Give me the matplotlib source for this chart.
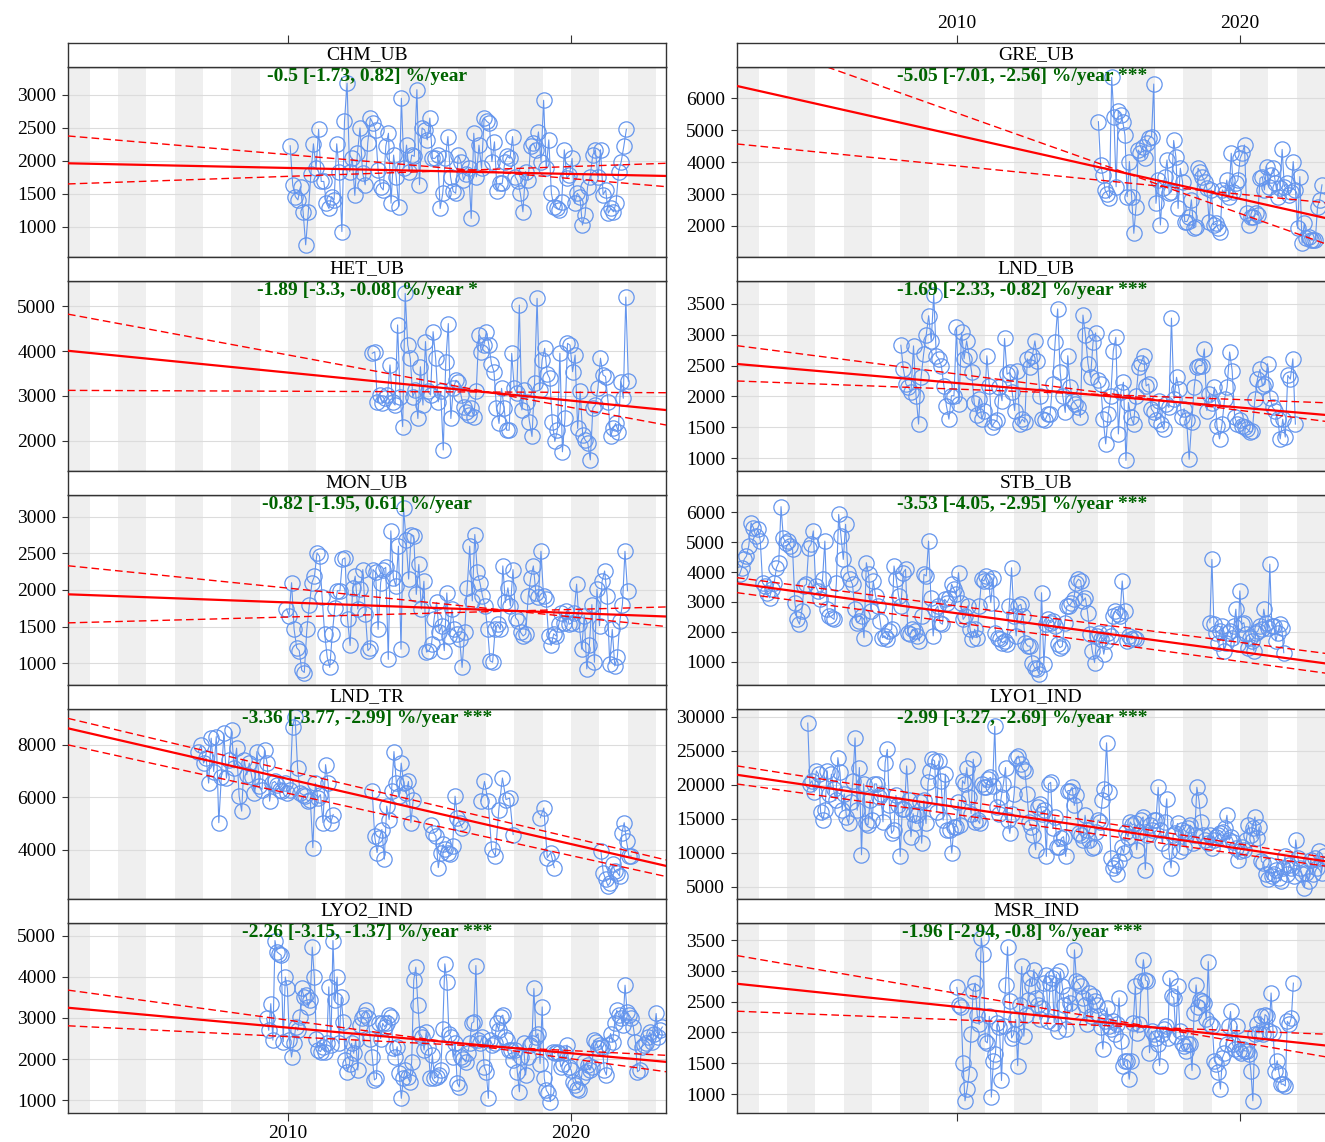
import numpy as np
import matplotlib
matplotlib.use("Agg")
import matplotlib.pyplot as plt

plt.rcParams['font.family'] = ['Liberation Serif', 'DejaVu Serif']

# ---- data (monthly means) ----
chm_ub = [2230, 1630, 1460, 1410, 1610, 1230, 730, 1220, 1800, 2260, 1890, 2480, 1690, 1690, 1360, 1280, 1460, 1410, 2260, 1840,
          930, 2600, 3180, 1840, 2040, 1480, 2120, 2500, 1820, 1640, 2270, 2650, 2570, 2470, 1860, 1610, 1560, 2230, 2420, 1360,
          2090, 1760, 1310, 2950, 1890, 2240, 1840, 2090, 2070, 3080, 1640, 2500, 2470, 2320, 2650, 2040, 2040, 2090, 1280, 1510,
          2040, 2370, 1760, 1540, 1510, 2090, 1990, 1710, 1810, 1890, 1130, 2420, 1760, 2240, 1890, 2650, 2600, 2570, 1990, 2290,
          1540, 1660, 1660, 1990, 2070, 2040, 2370, 1760, 1690, 1510, 1230, 1840, 1710, 2220, 2270, 2170, 2440, 1990, 2920, 1890,
          2320, 1510, 1310, 1280, 1260, 1380, 2170, 1740, 1790, 2040, 1360, 1510, 1460, 1030, 1180, 1610, 1760, 2090, 2170, 1760,
          2170, 1490, 1560, 1210, 1280, 1230, 1360, 1840, 1990, 2220, 2480]
gre_ub = [5270, 3910, 3600, 3130, 3000, 2870, 6660, 5430, 3230, 5620, 5480, 5270, 4850, 2920, 4020, 2920, 1770, 2610, 4380, 4280,
          4490, 4120, 4590, 4750, 4800, 6450, 2710, 3440, 2030, 3180, 3550, 4070, 3020, 3080, 4680, 4170, 2550, 3810, 3390, 2140,
          2140, 2290, 2820, 1930, 1980, 3810, 3700, 3550, 3390, 3180, 2140, 3130, 2030, 2080, 1930, 1820, 3130, 3020, 3440, 2920,
          4280, 3080, 3340, 3440, 4120, 4280, 4540, 2400, 2030, 2290, 2290, 2400, 2340, 3490, 3550, 3130, 3860, 3230, 3600, 3810,
          3340, 2920, 3180, 4400, 3230, 3340, 2970, 3080, 4020, 3130, 1930, 3550, 1460, 2080, 1610, 1670, 1560, 1560, 1560, 2610,
          2820, 3290]
het_ub = [3950, 3980, 2870, 3020, 2840, 2950, 3020, 3690, 2870, 2800, 4580, 2980, 2320, 5280, 4130, 3840, 2980, 3130, 2500, 3650,
          2800, 4210, 3100, 3020, 4430, 3840, 2870, 3100, 1800, 3760, 4610, 2500, 3170, 3350, 3320, 3020, 2760, 2650, 2580, 2730,
          2540, 3100, 4350, 3980, 4130, 4430, 4130, 3720, 3540, 2730, 2390, 3170, 2730, 2240, 2240, 3950, 3170, 3060, 5020, 2690,
          3130, 2870, 2430, 2100, 3280, 5170, 3130, 3800, 4060, 3500, 3390, 2430, 1990, 2240, 3950, 1760, 2500, 4170, 4130, 3540,
          3910, 2280, 3100, 2130, 2020, 1950, 1580, 2730, 2800, 3170, 3840, 3470, 3430, 2870, 2100, 2280, 2390, 2210, 3320, 2950,
          5200, 3330]
lnd_ub = [2830, 2440, 2200, 2150, 2070, 2820, 2010, 1550, 2310, 2690, 2990, 3310, 2900, 3650, 2660, 2610, 2500, 2170, 1850, 1630,
          2010, 2010, 3120, 1880, 3040, 2610, 2900, 2660, 2390, 1900, 1690, 1960, 1630, 1770, 2660, 2170, 1500, 1580, 1610, 2150,
          1930, 2940, 2360, 2390, 2070, 1770, 2420, 1550, 1630, 1580, 2610, 2470, 2660, 2900, 2580, 2010, 1630, 1610, 1710, 1710,
          2200, 2880, 3420, 2390, 2010, 1740, 2660, 2150, 1930, 1880, 1820, 1660, 3320, 2990, 2530, 2310, 2880, 3030, 2260, 2200,
          1630, 1230, 1710, 2010, 2740, 2960, 1390, 2070, 2230, 960, 1900, 1660, 1550, 2010, 2470, 2550, 2660, 2170, 2200, 1800,
          1740, 1610, 1930, 1550, 1470, 1880, 1820, 3270, 1960, 2310, 2120, 1660, 1800, 1610, 980, 1580, 2150, 2470, 2500, 2500,
          2770, 1770, 2040, 1900, 2150, 1520, 1310, 1550, 1960, 2150, 2720, 2420, 1660, 1550, 1610, 1520, 1500, 1470, 1420, 1440,
          1960, 2280, 2440, 2170, 2200, 2530, 1980, 1820, 1770, 1630, 1310, 1630, 1340, 2340, 2280, 2610, 1550]
mon_ub = [1740, 1650, 2100, 1460, 1210, 1170, 900, 870, 1460, 1800, 2100, 2190, 2510, 2460, 1900, 1400, 1080, 940, 1400, 1760,
          1990, 1990, 2420, 2440, 1600, 1240, 2030, 2190, 1740, 2010, 2280, 1670, 1170, 1210, 2280, 2240, 1460, 2100, 2280, 2310,
          1050, 2810, 2170, 2050, 2600, 1190, 3120, 2690, 2150, 2760, 2740, 1940, 2350, 1740, 2120, 1150, 1170, 1260, 1600, 1830,
          1420, 1510, 1170, 1960, 1370, 1740, 1460, 1400, 1330, 940, 1420, 2030, 2600, 1850, 2760, 2240, 2100, 1920, 1780, 1460,
          1030, 1010, 1460, 1530, 1460, 2330, 1830, 2030, 1780, 2280, 1620, 1580, 1420, 1370, 1400, 1920, 2170, 2330, 1960, 1900,
          2530, 1920, 1870, 1370, 1240, 1400, 1370, 1530, 1690, 1550, 1710, 1530, 1550, 1690, 2080, 1530, 1190, 1650, 920, 1240,
          1800, 1010, 2010, 1510, 2120, 2260, 1920, 990, 1460, 960, 1080, 1580, 1800, 2530, 1990]
stb_ub_a = [3920, 4140, 4420, 4530, 4870, 5640, 5480, 5200, 5420, 5030, 3640, 3530, 3310, 3140, 3420, 3640, 4140, 4310, 6180, 5140,
            4980, 5030, 4870, 4760, 2980, 2420, 2260, 2700, 3530, 3590, 4810, 4920, 5370, 3530, 3370, 3090, 3760, 5030, 2760, 2530,
            2480, 2420, 3640, 5920, 5200, 4420, 5590, 3980, 3760, 3590, 2760, 2310, 2370, 2530, 1810, 4310, 3920, 2700, 3700, 3200,
            2870, 2370, 1810, 1870, 1760, 2030, 2090, 4200, 3760, 3200, 2870, 3980, 4090, 1980, 1920, 2090, 2030, 1870, 1700, 2530,
            3920, 3870, 5030, 3140, 1870, 2760, 2870, 2310, 2260, 3090, 2980, 3140, 3590, 3420, 3260, 3980, 2980, 2420, 2530, 2870,
            2090, 1760, 2090, 1810, 2870, 3760, 3700, 3870, 3700, 2980, 3810, 1980, 1810, 1760, 1640, 1700, 1590, 2870, 4140, 2530,
            1870, 2870, 2920, 2530, 1640, 1530, 1530, 980, 810, 760, 590, 3310, 920, 2260, 2420, 2310, 2370, 2200, 1590, 1480,
            1530, 2310, 2870, 2870, 2980, 3090, 3640, 3760, 3700, 3030, 3140, 2640, 1920, 1370, 980, 1870, 1980, 1760, 1260, 1700,
            1980, 1870, 2530, 2700, 2590, 2530, 3700, 2700, 1700, 1870, 1760, 1810, 1760]
stb_ub_b = [2310, 4420, 2260, 1980, 1640, 2030, 2200, 1370, 1640, 1980, 2030, 1810, 2200, 2760, 1590, 3370, 2260, 2310, 1920, 1480,
            1810, 1700, 1370, 1980, 2030, 2200, 2090, 2760, 2310, 2140, 4260, 2200, 2200, 1700, 1980, 2260, 2140, 1310]
lnd_tr_1 = [7750, 8000, 7310, 7500, 6550, 8260, 6990, 8320, 5040, 6780, 8450, 6740, 7440, 8570, 7120, 7880, 6050, 5480, 7440, 6870,
            7310, 6780, 6170, 7750, 6420, 6300, 7810, 7310, 5860, 6550, 6610, 6490, 6300, 6240, 6550, 6170, 6300, 8700, 9080, 7120,
            6170, 6110, 6050, 5860, 5920, 4090, 6550, 5980, 6110, 5040, 7250, 6550, 5040, 5350]
lnd_tr_2 = [6240, 4530, 3900, 4470, 4780, 3650, 5670, 5160, 6240, 7750, 6550, 6050, 7310, 6550, 6170, 6610, 5040, 5920]
lnd_tr_3 = [4970, 4660, 4530, 3330, 3900, 4210, 4030, 3900, 3840, 4150, 6050, 5230, 5040, 4850]
lnd_tr_4 = [5860, 6610, 5860, 4030, 3770, 5540, 6740, 5920, 5980, 4590]
lnd_tr_5 = [5230, 5600, 3710, 3900, 3330]
lnd_tr_6 = [3960, 3140, 2890, 2640, 2760, 3460, 3200, 3140, 3010, 4660, 5040, 4340, 3770, 3770]
lyo1_ind = [29100, 20150, 20630, 18940, 22090, 21600, 16040, 14830, 16280, 22090, 18700, 21600, 19420, 17730, 24020, 21840, 16280,
            18700, 15310, 14340, 17490, 20630, 26930, 16280, 22570, 9740, 20150, 14340, 14100, 17730, 14830, 20150, 20150, 18210,
            18700, 14580, 23300, 25230, 17000, 12890, 13370, 18460, 17000, 9500, 16520, 16520, 22810, 17730, 12410, 15790, 14340,
            15550, 17490, 11440, 17730, 14340, 20390, 22090, 23780, 23540, 16040, 23540, 20630, 14830, 21600, 13370, 13370, 9990,
            13860, 13860, 17490, 14100, 20630, 20150, 22570, 18210, 15790, 23780, 14580, 14830, 14340, 20150, 19670, 19670, 20880,
            21120, 19910, 28620, 16760, 15790, 18210, 20150, 22570, 14830, 12890, 15790, 18700, 24020, 24260, 23050, 22330, 22090,
            18700, 14580, 13860, 12650, 10470, 16760, 17250, 15790, 16280, 9500, 20150, 20390, 13620, 15310, 10950, 10950, 12160,
            12410, 9500, 19180, 19180, 19670, 17000, 18460, 12890, 12650, 11920, 15550, 13370, 11920, 10710, 10950, 13130, 14830,
            14580, 17730, 19420, 26200, 18940, 9260, 7810, 8290, 6840, 8780, 10950, 9990, 13130, 12410, 14580, 14100, 14340, 10470,
            13130, 14830, 15310, 7570, 12650, 14100, 13370, 14830, 14830, 19670, 13370, 11440, 14580, 17970, 10230, 7810, 12650,
            12890, 14340, 10230, 13370, 10950, 13130, 13620, 14100, 11440, 12650, 19670, 17730, 14580, 12650, 11920, 11440, 12650,
            10710, 11920, 12410, 12650, 12890, 13130, 13620, 15550, 11920, 12410, 11680, 10710, 9020, 10230, 10950, 10470, 11920,
            14100, 12650, 13620, 15310, 12160, 13860, 8780, 8530, 6840, 6110, 8290, 6600, 6840, 7570, 6360, 5870, 7810, 9500, 6840,
            8290, 7810, 6600, 11920, 9260, 7810, 6840, 4900, 7080, 5870, 9020, 6840, 9260, 7810, 10230, 7080, 9500]
lyo2_ind = [2990, 2700, 3350, 2460, 4890, 4610, 4570, 4530, 2420, 4000, 3720, 2460, 2050, 2380, 2780, 2700, 3030, 3720, 3510, 3550,
            3270, 3430, 4730, 4000, 2500, 2220, 2180, 2300, 2180, 2380, 3760, 2340, 4890, 3430, 4000, 2380, 3510, 2910, 1970, 1690,
            1890, 2380, 2140, 2460, 1730, 2820, 2990, 3070, 3190, 2990, 2500, 2050, 1490, 1530, 2870, 2500, 2870, 2780, 2870, 3070,
            3030, 2260, 2050, 2300, 1650, 1040, 1530, 1730, 1570, 1450, 1930, 3920, 4240, 3310, 2620, 2540, 2220, 2660, 2300, 1530,
            2090, 1530, 1570, 1610, 1730, 2740, 4320, 3880, 2620, 2540, 2050, 2380, 1410, 1320, 2050, 2010, 1930, 2140, 2380, 2870,
            2910, 4280, 2460, 2380, 2540, 1810, 1690, 1040, 2460, 2340, 2380, 2870, 2700, 3030, 3070, 2540, 2460, 2220, 2220, 1970,
            2220, 1690, 1200, 2050, 2380, 1610, 2050, 2340, 2380, 3720, 2540, 2620, 1890, 3270, 1530, 1240, 1160, 960, 2180, 2140,
            2180, 2140, 1810, 1890, 2140, 2340, 1810, 1730, 1450, 1360, 1280, 1240, 1570, 1930, 1690, 1850, 1730, 1810, 2460, 2420,
            2260, 2340, 2300, 1730, 1610, 2340, 2620, 2420, 2870, 3190, 3070, 2990, 2820, 3800, 3150, 3070, 2990, 2780, 2420, 1690,
            1730, 2300, 2340, 2380, 2540, 2660, 2420, 2620, 3110, 2540, 2700, 2780]
msr_ind = [2730, 2450, 2420, 1510, 890, 1080, 1320, 1970, 2670, 2800, 2290, 2130, 3530, 3280, 1860, 1830, 2260, 950, 1540, 1650,
           2160, 2080, 1220, 2100, 2770, 3390, 2510, 1910, 1970, 2210, 1460, 2450, 3070, 1940, 2290, 2530, 2880, 2750, 3020, 2560,
           2450, 2210, 2400, 2800, 2940, 2180, 2800, 2880, 2160, 2940, 2020, 2990, 2750, 2450, 2050, 2610, 2480, 2340, 3340, 2830,
           2800, 2750, 2560, 2450, 2130, 2640, 2260, 2590, 2510, 2450, 2260, 2080, 1730, 2180, 2400, 2100, 2050, 2180, 1970, 2130,
           2560, 1860, 1460, 1540, 1540, 1240, 1540, 2160, 2750, 1990, 2130, 2830, 3180, 2850, 2830, 1670, 2020, 1970, 1910, 1810,
           1460, 1970, 2050, 2100, 1910, 2880, 2590, 2560, 1940, 2750, 2020, 1830, 1780, 1700, 1810, 1810, 1380, 2320, 2770, 2420,
           2530, 2510, 2480, 2210, 3150, 2130, 2100, 1540, 1480, 1350, 1080, 1590, 1670, 1810, 2100, 2340, 1810, 1730, 2100, 1700,
           1670, 1730, 1700, 1700, 1650, 1380, 890, 1970, 2130, 1990, 2260, 1970, 2290, 2260, 2020, 2640, 1990, 1380, 1540, 1320,
           1160, 1160, 1130, 2180, 2130, 2240, 2800]

# first / last date (decimal year) of each run of samples
spans = {
    "CHM_UB": [(2010.08, 2021.96, chm_ub)],
    "GRE_UB": [(2015.0, 2022.9, gre_ub)],
    "HET_UB": [(2012.98, 2022.03, het_ub)],
    "LND_UB": [(2008.02, 2021.96, lnd_ub)],
    "MON_UB": [(2009.95, 2022.0, mon_ub)],
    "STB_UB": [(2002.32, 2016.33, stb_ub_a), (2018.94, 2021.55, stb_ub_b)],
    "LND_TR": [(2006.84, 2011.6, lnd_tr_1), (2012.98, 2014.43, lnd_tr_2), (2015.06, 2016.16, lnd_tr_3),
               (2016.82, 2017.96, lnd_tr_4), (2018.92, 2019.41, lnd_tr_5), (2021.06, 2022.13, lnd_tr_6)],
    "LYO1_IND": [(2004.73, 2022.96, lyo1_ind)],
    "LYO2_IND": [(2009.25, 2023.23, lyo2_ind)],
    "MSR_IND": [(2010.0, 2021.89, msr_ind)],
}

# Theil-Sen fit and its 95% bounds: value at start and end of the time axis
trends = {
    "CHM_UB": [(1965, 1773), (2379, 1611), (1652, 1965)],
    "GRE_UB": [(6389, 2254), (7987, 1450), (4571, 2732)],
    "HET_UB": [(4005, 2688), (4819, 2355), (3125, 3073)],
    "LND_UB": [(2526, 1700), (2823, 1596), (2250, 1897)],
    "MON_UB": [(1941, 1637), (2332, 1500), (1550, 1768)],
    "STB_UB": [(3622, 955), (3811, 1290), (3311, 632)],
    "LND_TR": [(8635, 3394), (9014, 3621), (8004, 2990)],
    "LYO1_IND": [(21500, 8800), (22810, 9371), (20150, 8085)],
    "LYO2_IND": [(3250, 1930), (3680, 1690), (2810, 2090)],
    "MSR_IND": [(2790, 1789), (3247, 1606), (2344, 1972)],
}

slope_text = {
    "CHM_UB": "-0.5 [-1.73, 0.82] %/year",
    "GRE_UB": "-5.05 [-7.01, -2.56] %/year ***",
    "HET_UB": "-1.89 [-3.3, -0.08] %/year *",
    "LND_UB": "-1.69 [-2.33, -0.82] %/year ***",
    "MON_UB": "-0.82 [-1.95, 0.61] %/year",
    "STB_UB": "-3.53 [-4.05, -2.95] %/year ***",
    "LND_TR": "-3.36 [-3.77, -2.99] %/year ***",
    "LYO1_IND": "-2.99 [-3.27, -2.69] %/year ***",
    "LYO2_IND": "-2.26 [-3.15, -1.37] %/year ***",
    "MSR_IND": "-1.96 [-2.94, -0.8] %/year ***",
}

# panel order (row-major, 2 columns) with y ticks and limits
panels = [
    ("CHM_UB", np.arange(1000, 3001, 500), (545, 3424)),
    ("GRE_UB", np.arange(2000, 6001, 1000), (1028, 6984)),
    ("HET_UB", np.arange(2000, 5001, 1000), (1333, 5556)),
    ("LND_UB", np.arange(1000, 3501, 500), (789, 3873)),
    ("MON_UB", np.arange(1000, 3001, 500), (699, 3301)),
    ("STB_UB", np.arange(1000, 6001, 1000), (233, 6567)),
    ("LND_TR", [4000, 6000, 8000], (2133, 9371)),
    ("LYO1_IND", np.arange(5000, 30001, 5000), (3235, 31176)),
    ("LYO2_IND", np.arange(1000, 5001, 1000), (683, 5317)),
    ("MSR_IND", np.arange(1000, 3501, 500), (692, 3776)),
]

x0, x1 = 2002.23, 2023.36
W, H = 1325, 1142
blue = "#6495ED"
edge = "#333333"

fig = plt.figure(figsize=(W / 100, H / 100), dpi=100)

col_left = [68, 737]
col_w = 598

for k, (name, yt, ylim) in enumerate(panels):
    row, col = divmod(k, 2)
    top = 67 + 214 * row
    ax = fig.add_axes([col_left[col] / W, 1 - (top + 190) / H, col_w / W, 190 / H])
    st = fig.add_axes([col_left[col] / W, 1 - top / H, col_w / W, 24 / H])

    # alternate year shading
    for yr in range(2002, 2024, 2):
        ax.axvspan(yr, yr + 1, color="#efefef", lw=0, zorder=0)
    for v in yt:
        ax.axhline(v, color="#dcdcdc", lw=0.8, zorder=0.5)

    for t0, t1, vals in spans[name]:
        t = np.linspace(t0, t1, len(vals))
        ax.plot(t, vals, color=blue, lw=0.8, zorder=2)
        ax.plot(t, vals, "o", mfc="none", mec=blue, ms=11, mew=0.9, zorder=2)

    for i, (a, b) in enumerate(trends[name]):
        xr = x1 if col == 0 else 2023.0
        if i == 0:
            ax.axline((x0, a), (xr, b), color="red", lw=1.6, zorder=3)
        else:
            ax.axline((x0, a), (xr, b), color="red", lw=1.0, dashes=(5.5, 3), zorder=3)

    ax.text(0.5 if col == 0 else 0.477, 0.95, slope_text[name], transform=ax.transAxes,
            ha="center", va="center", fontsize=14, fontweight="bold", color="#006400", zorder=4)

    ax.set_xlim(x0, x1)
    ax.set_ylim(*ylim)
    ax.set_yticks(yt)
    ax.set_yticklabels([str(int(v)) for v in yt])
    ax.set_xticks([2010, 2020])
    ax.tick_params(axis="y", direction="out", length=4.5, width=0.8, pad=4, labelsize=14, color=edge)
    if row == 4:
        ax.tick_params(axis="x", direction="out", length=6, width=0.8, pad=2.5, labelsize=14, color=edge,
                       labelbottom=(col == 0))
    else:
        ax.tick_params(axis="x", bottom=False, labelbottom=False)
    for s in ax.spines.values():
        s.set_color(edge)
        s.set_linewidth(1.0)

    # strip with the site name
    st.set_xlim(x0, x1)
    st.set_yticks([])
    st.text(0.5, 0.5, name, transform=st.transAxes, ha="center", va="center", fontsize=14)
    if row == 0:
        st.set_xticks([2010, 2020])
        st.xaxis.tick_top()
        st.tick_params(axis="x", direction="out", length=6, width=0.8, pad=2, labelsize=14, color=edge,
                       labeltop=(col == 1), bottom=False, labelbottom=False)
    else:
        st.set_xticks([])
    for s in st.spines.values():
        s.set_color(edge)
        s.set_linewidth(1.0)

fig.savefig("out.png", dpi=100)
